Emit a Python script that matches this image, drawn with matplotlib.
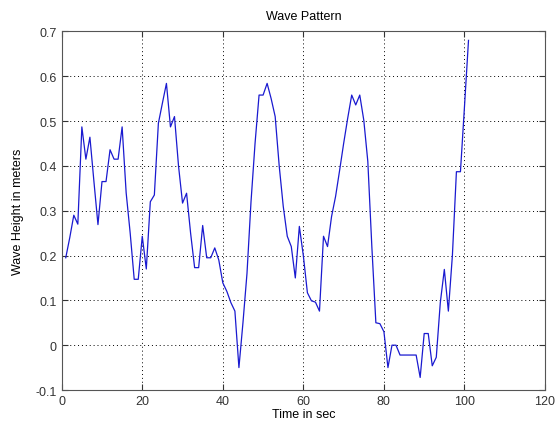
import matplotlib
matplotlib.use("Agg")
import matplotlib.pyplot as plt

time_sec = list(range(1, 102))
wave_height = [
    0.195, 0.24, 0.29, 0.27, 0.487, 0.415, 0.464, 0.365, 0.269, 0.365,
    0.365, 0.436, 0.415, 0.415, 0.487, 0.34, 0.25, 0.147, 0.147, 0.243,
    0.17, 0.32, 0.335, 0.495, 0.54, 0.584, 0.487, 0.51, 0.40, 0.317,
    0.339, 0.25, 0.173, 0.173, 0.267, 0.195, 0.195, 0.217, 0.19, 0.139,
    0.12, 0.095, 0.076, -0.05, 0.05, 0.16, 0.32, 0.45, 0.558, 0.558,
    0.584, 0.55, 0.51, 0.40, 0.31, 0.243, 0.22, 0.15, 0.265, 0.199,
    0.117, 0.099, 0.096, 0.076, 0.243, 0.22, 0.287, 0.332, 0.39, 0.45,
    0.506, 0.558, 0.536, 0.558, 0.502, 0.41, 0.22, 0.05, 0.048, 0.03,
    -0.05, 0.0, 0.0, -0.022, -0.022, -0.022, -0.022, -0.022, -0.072, 0.026,
    0.026, -0.046, -0.027, 0.095, 0.169, 0.076, 0.2, 0.387, 0.387, 0.532,
    0.68,
]
x_ticks = [0, 20, 40, 60, 80, 100, 120]
y_ticks = [-0.1, 0, 0.1, 0.2, 0.3, 0.4, 0.5, 0.6, 0.7]
y_tick_labels = ["-0.1", "0", "0.1", "0.2", "0.3", "0.4", "0.5", "0.6", "0.7"]

plt.rcParams['font.family'] = ['Liberation Sans', 'DejaVu Sans']
fig = plt.figure(figsize=(5.57, 4.31), dpi=100)
ax = fig.add_axes([0.1108, 0.0928, 0.8677, 0.832])
ax.plot(time_sec, wave_height, color='#1a1ad0', linewidth=0.9)
ax.set_xlim(0, 120)
ax.set_ylim(-0.1, 0.7)
ax.set_xticks(x_ticks)
ax.set_yticks(y_ticks)
ax.set_yticklabels(y_tick_labels)
ax.tick_params(direction='in', top=True, right=True, labelsize=9, length=4, width=0.8,
               colors='#333333')
ax.grid(True, linestyle=(0, (1, 3)), color='black', linewidth=0.7)
for s in ax.spines.values():
    s.set_linewidth(0.8)
    s.set_color('#555555')
ax.set_title("Wave Pattern", fontsize=9, pad=9)
ax.set_xlabel("Time in sec", fontsize=9, labelpad=1)
ax.set_ylabel("Wave Height in meters", fontsize=9, labelpad=8)
fig.savefig("out.png", dpi=100)
